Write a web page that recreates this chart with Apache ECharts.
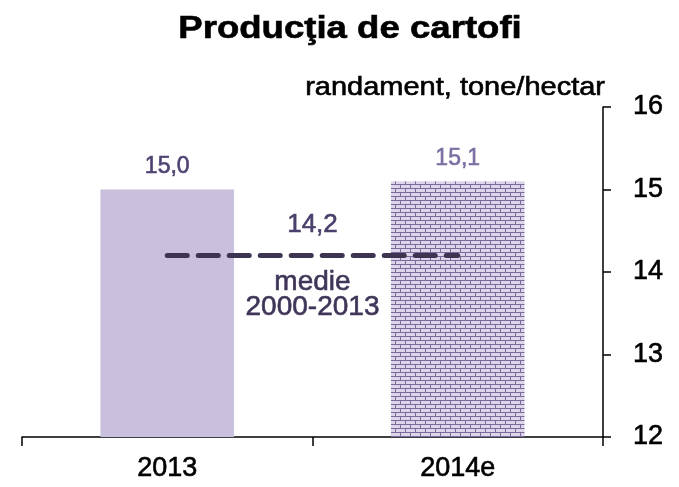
<!DOCTYPE html>
<html>
<head>
<meta charset="utf-8">
<script src="https://cdn.jsdelivr.net/npm/echarts@6/dist/echarts.min.js"></script>
<style>
  html, body { margin: 0; padding: 0; background: #fff; }
  #chart { width: 679px; height: 487px; }
</style>
</head>
<body>
<div id="chart"></div>
<script>
const years = ['2013', '2014e']
const yieldValues = [15.0, 15.1]
const averageValue = 14.2
const averageLabel = ['medie', '2000-2013']
const yTicks = { min: 12, max: 16, interval: 1 }
const titleText = 'Producţia de cartofi'
const unitText = 'randament, tone/hectar'

const fmt = v => v.toFixed(1).replace('.', ',')

// brick pattern for the estimate bar
const brick = document.createElement('canvas')
brick.width = 10
brick.height = 8
const ctx = brick.getContext('2d')
ctx.fillStyle = '#ddd6ea'
ctx.fillRect(0, 0, 10, 8)
ctx.fillStyle = '#7a6b9c'
ctx.fillRect(0, 0, 10, 1)
ctx.fillRect(0, 4, 10, 1)
ctx.fillRect(0, 0, 1, 4)
ctx.fillRect(5, 4, 1, 4)

const chart = echarts.init(document.getElementById('chart'))
const FONT = 'Liberation Sans, Arial, sans-serif'
// the source text is a little heavier than plain Arial
const heavy = c => ({ color: c, textBorderColor: c, textBorderWidth: 0.6 })

chart.setOption({
  animation: false,
  textStyle: { fontFamily: FONT },
  // the source text is a bit stretched horizontally
  graphic: [
    {
      type: 'text', x: 350, y: 29, scaleX: 1.18,
      style: { text: titleText, font: 'bold 31px ' + FONT, fill: '#000',
        stroke: '#000', lineWidth: 0.6,
        textAlign: 'center', textVerticalAlign: 'middle' }
    },
    {
      type: 'text', x: 605, y: 88, scaleX: 1.16,
      style: { text: unitText, font: '25px ' + FONT, fill: '#000',
        stroke: '#000', lineWidth: 0.6,
        textAlign: 'right', textVerticalAlign: 'middle' }
    }
  ],
  grid: { left: 22, right: 76, top: 107, bottom: 50 },
  xAxis: {
    type: 'category',
    data: years,
    axisLine: { lineStyle: { color: '#000', width: 1.5 } },
    axisTick: { show: true, length: 9, lineStyle: { color: '#000', width: 1.5 } },
    axisLabel: Object.assign({ fontSize: 27, margin: 18 }, heavy('#000'))
  },
  yAxis: {
    type: 'value',
    position: 'right',
    min: yTicks.min, max: yTicks.max, interval: yTicks.interval,
    splitLine: { show: false },
    axisLine: { show: true, lineStyle: { color: '#000', width: 1.5 } },
    axisTick: { show: true, length: 8, lineStyle: { color: '#000', width: 1.5 } },
    axisLabel: Object.assign({ fontSize: 27, margin: 30 }, heavy('#000'))
  },
  series: [{
    type: 'bar',
    barWidth: '46%',
    data: yieldValues.map((v, i) => ({
      value: v,
      itemStyle: { color: i === 0 ? '#c8c0dc' : { image: brick, repeat: 'repeat' } },
      label: heavy(i === 0 ? '#4f4272' : '#7d6fa3')
    })),
    label: {
      show: true, position: 'top', distance: 11,
      fontSize: 23, formatter: p => fmt(p.value)
    },
    markLine: {
      silent: true,
      symbol: 'none',
      data: [
        [
          { coord: [years[0], averageValue],
            lineStyle: { color: '#3d3452', width: 5, type: [20, 11], cap: 'round' },
            label: Object.assign({ show: true, position: 'insideMiddleTop', distance: 18,
              formatter: fmt(averageValue), fontSize: 26 }, heavy('#4b3f6b')) },
          { coord: [years[1], averageValue] }
        ],
        [
          { coord: [years[0], averageValue],
            lineStyle: { color: 'rgba(0,0,0,0)', width: 0 },
            label: Object.assign({ show: true, position: 'insideMiddleBottom', distance: 14,
              formatter: averageLabel.join('\n'), fontSize: 28, lineHeight: 25,
              backgroundColor: '#fff', padding: [0, 2] }, heavy('#3f3558')) },
          { coord: [years[1], averageValue] }
        ]
      ]
    }
  }]
})
</script>
</body>
</html>
